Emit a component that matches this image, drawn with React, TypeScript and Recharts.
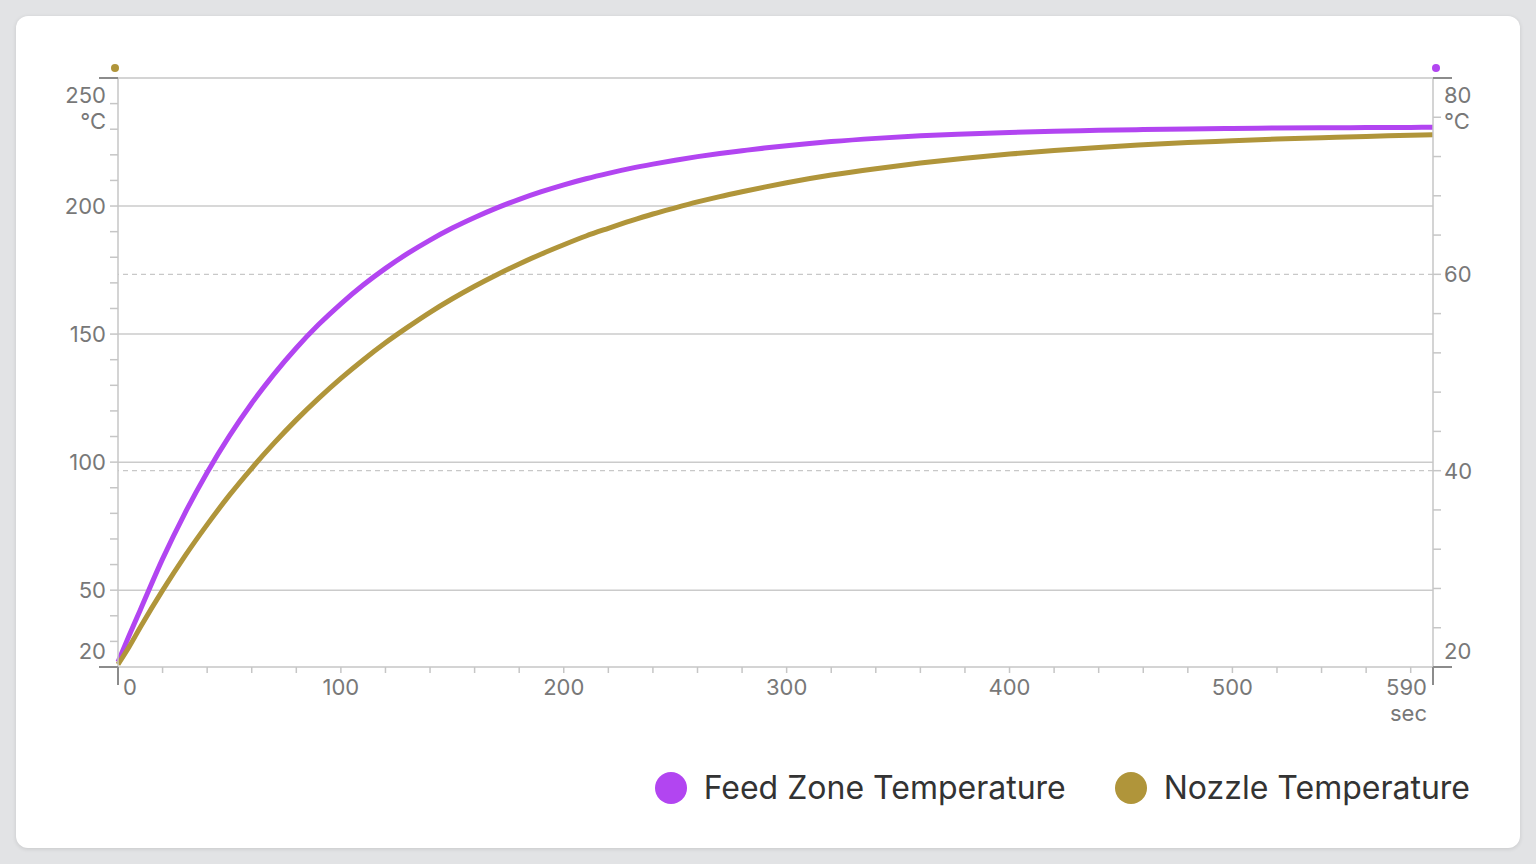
import React from 'react';
import { LineChart, Line, XAxis, YAxis, ReferenceLine } from 'recharts';

// ---- data ----
const TIME = [0, 5, 10, 20, 30, 40, 50, 60, 70, 80, 90, 100, 110, 120, 130, 140, 150, 160, 170, 180, 190, 200, 210, 220, 230, 240, 250, 260, 270, 280, 290, 300, 320, 340, 360, 380, 400, 420, 440, 460, 480, 500, 520, 540, 560, 580, 590];
const FEED_ZONE = [20.5, 23.2, 25.81, 31.01, 35.66, 39.82, 43.54, 46.87, 49.84, 52.5, 54.88, 57.0, 58.91, 60.61, 62.13, 63.49, 64.71, 65.79, 66.77, 67.64, 68.42, 69.12, 69.74, 70.29, 70.79, 71.23, 71.63, 71.99, 72.31, 72.59, 72.86, 73.1, 73.52, 73.85, 74.11, 74.3, 74.46, 74.58, 74.67, 74.75, 74.81, 74.86, 74.9, 74.93, 74.95, 74.97, 74.98];
const NOZZLE = [21, 27.9, 35.5, 49.9, 63.3, 75.6, 87.1, 97.6, 107.4, 116.5, 124.9, 132.7, 139.9, 146.6, 152.7, 158.5, 163.8, 168.7, 173.2, 177.4, 181.3, 184.9, 188.3, 191.3, 194.2, 196.9, 199.3, 201.6, 203.7, 205.6, 207.4, 209.1, 212.1, 214.6, 216.8, 218.7, 220.3, 221.7, 222.9, 223.9, 224.8, 225.5, 226.2, 226.7, 227.2, 227.6, 227.8];

const SERIES_NAMES = ['Feed Zone Temperature', 'Nozzle Temperature'];
const SERIES_COLORS = ['#b245f1', '#b0953a'];

const X_TICKS = [0, 20, 40, 60, 80, 100, 120, 140, 160, 180, 200, 220, 240, 260, 280, 300, 320, 340, 360, 380, 400, 420, 440, 460, 480, 500, 520, 540, 560, 580, 590];
const X_LABELS = [0, 100, 200, 300, 400, 500, 590];
const LEFT_TICKS = [20, 30, 40, 50, 60, 70, 80, 90, 100, 110, 120, 130, 140, 150, 160, 170, 180, 190, 200, 210, 220, 230, 240, 250];
const LEFT_LABELS = [20, 50, 100, 150, 200, 250];
const RIGHT_TICKS = [20, 24, 28, 32, 36, 40, 44, 48, 52, 56, 60, 64, 68, 72, 76, 80];
const RIGHT_LABELS = [20, 40, 60, 80];
const LEFT_GRID = [200, 150, 100, 50];
const RIGHT_GRID = [60, 40];
const UNIT_Y = '°C';
const UNIT_X = 'sec';

const data = TIME.map((t, i) => ({ t, feed: FEED_ZONE[i], nozzle: NOZZLE[i] }));

const FONT = 'Inter, "Noto Sans", sans-serif';
const TICK_COLOR = '#787878';
const MINOR = '#c6c6c6';
const END = '#8c8c8c';

const txt = (x: number, y: number, s: string | number, anchor: 'start' | 'middle' | 'end', key?: string) => (
  <text key={key} x={x} y={y} textAnchor={anchor} dominantBaseline="central" fontFamily={FONT} fontSize={22} fill={TICK_COLOR}>
    {s}
  </text>
);

const LeftTick = (props: any) => {
  const { x, y, payload } = props;
  const v = payload.value;
  const top = v === 250;
  const bottom = v === 20;
  const isEnd = top || bottom;
  const labeled = LEFT_LABELS.includes(v);
  return (
    <g>
      <line x1={x - (isEnd ? 19 : 8)} x2={x} y1={y} y2={y} stroke={isEnd ? END : MINOR} strokeWidth={isEnd ? 2 : 1.5} />
      {top && <circle cx={x - 3} cy={y - 10} r={4} fill={SERIES_COLORS[1]} />}
      {labeled && top && (
        <>
          {txt(x - 12, y + 17, v, 'end')}
          {txt(x - 12, y + 43, UNIT_Y, 'end')}
        </>
      )}
      {labeled && bottom && txt(x - 12, y - 16, v, 'end')}
      {labeled && !isEnd && txt(x - 12, y, v, 'end')}
    </g>
  );
};

const RightTick = (props: any) => {
  const { x, y, payload } = props;
  const v = payload.value;
  const top = v === 80;
  const bottom = v === 20;
  const isEnd = top || bottom;
  const labeled = RIGHT_LABELS.includes(v);
  return (
    <g>
      <line x1={x} x2={x + (isEnd ? 19 : 8)} y1={y} y2={y} stroke={isEnd ? END : MINOR} strokeWidth={isEnd ? 2 : 1.5} />
      {top && <circle cx={x + 3} cy={y - 10} r={4} fill={SERIES_COLORS[0]} />}
      {labeled && top && (
        <>
          {txt(x + 11, y + 17, v, 'start')}
          {txt(x + 11, y + 43, UNIT_Y, 'start')}
        </>
      )}
      {labeled && bottom && txt(x + 11, y - 16, v, 'start')}
      {labeled && !isEnd && txt(x + 11, y, v, 'start')}
    </g>
  );
};

const XTick = (props: any) => {
  const { x, y, payload } = props;
  const v = payload.value;
  const first = v === 0;
  const last = v === 590;
  const isEnd = first || last;
  const labeled = X_LABELS.includes(v);
  return (
    <g>
      <line x1={x} x2={x} y1={y} y2={y + (isEnd ? 18 : 6)} stroke={isEnd ? END : MINOR} strokeWidth={isEnd ? 2 : 1.5} />
      {labeled && first && txt(x + 5, y + 20, v, 'start')}
      {labeled && last && (
        <>
          {txt(x - 6, y + 20, v, 'end')}
          {txt(x - 6, y + 46, UNIT_X, 'end')}
        </>
      )}
      {labeled && !isEnd && txt(x, y + 20, v, 'middle')}
    </g>
  );
};

export default function App() {
  return (
    <div style={{ position: 'absolute', left: 0, top: 0, width: 1536, height: 864, background: '#e2e3e5', overflow: 'hidden' }}>
      <div
        style={{
          position: 'absolute',
          left: 16,
          top: 16,
          width: 1504,
          height: 832,
          background: '#ffffff',
          borderRadius: 12,
          boxShadow: '0 1px 4px rgba(0,0,0,0.12)',
        }}
      >
        <LineChart width={1504} height={832} data={data} margin={{ top: 62, right: 27, bottom: 141, left: 42 }}>
          <XAxis
            dataKey="t"
            type="number"
            domain={[0, 590]}
            ticks={X_TICKS}
            interval={0}
            tickSize={0}
            tickMargin={0}
            tickLine={false}
            height={40}
            axisLine={{ stroke: MINOR, strokeWidth: 1.5 }}
            tick={<XTick />}
          />
          <YAxis
            yAxisId="left"
            orientation="left"
            type="number"
            domain={[20, 250]}
            ticks={LEFT_TICKS}
            interval={0}
            width={60}
            tickSize={0}
            tickMargin={0}
            tickLine={false}
            axisLine={{ stroke: MINOR, strokeWidth: 1.5 }}
            tick={<LeftTick />}
          />
          <YAxis
            yAxisId="right"
            orientation="right"
            type="number"
            domain={[20, 80]}
            ticks={RIGHT_TICKS}
            interval={0}
            width={60}
            tickSize={0}
            tickMargin={0}
            tickLine={false}
            axisLine={{ stroke: MINOR, strokeWidth: 1.5 }}
            tick={<RightTick />}
          />
          <ReferenceLine yAxisId="left" y={250} stroke={MINOR} strokeWidth={1.5} />
          {LEFT_GRID.map((g) => (
            <ReferenceLine key={'l' + g} yAxisId="left" y={g} stroke="#cbcbcb" strokeWidth={1.5} />
          ))}
          {RIGHT_GRID.map((g) => (
            <ReferenceLine key={'r' + g} yAxisId="right" y={g} stroke="#c8c8c8" strokeWidth={1.2} strokeDasharray="5 4" />
          ))}
          <Line
            yAxisId="right"
            type="monotone"
            dataKey="feed"
            name={SERIES_NAMES[0]}
            stroke={SERIES_COLORS[0]}
            strokeWidth={5}
            dot={false}
            activeDot={false}
            isAnimationActive={false}
          />
          <Line
            yAxisId="left"
            type="monotone"
            dataKey="nozzle"
            name={SERIES_NAMES[1]}
            stroke={SERIES_COLORS[1]}
            strokeWidth={5}
            dot={false}
            activeDot={false}
            isAnimationActive={false}
          />
        </LineChart>
        <div
          style={{
            position: 'absolute',
            left: 0,
            top: 748,
            width: 1454,
            height: 48,
            display: 'flex',
            justifyContent: 'flex-end',
            alignItems: 'center',
            fontFamily: FONT,
            fontSize: 32,
            color: '#333333',
          }}
        >
          {SERIES_NAMES.map((n, i) => (
            <div key={n} style={{ display: 'flex', alignItems: 'center', marginLeft: i === 0 ? 0 : 49 }}>
              <span style={{ width: 32, height: 32, borderRadius: 16, background: SERIES_COLORS[i], marginRight: 17, display: 'inline-block' }} />
              <span style={{ lineHeight: '48px', whiteSpace: 'nowrap' }}>{n}</span>
            </div>
          ))}
        </div>
      </div>
    </div>
  );
}
